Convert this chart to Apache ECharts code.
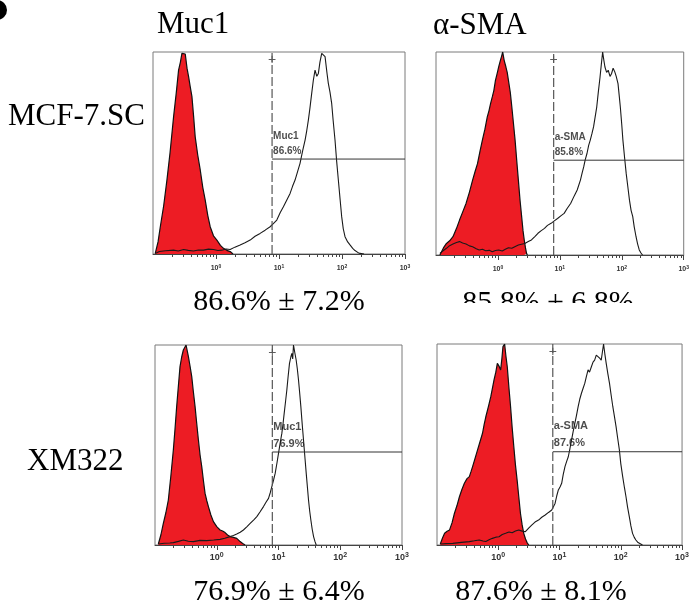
<!DOCTYPE html>
<html>
<head>
<meta charset="utf-8">
<script src="https://cdn.jsdelivr.net/npm/echarts@6/dist/echarts.min.js"></script>
<style>
html,body{margin:0;padding:0;background:#fff;}
#main{width:692px;height:614px;}
</style>
</head>
<body>
<div id="main"></div>
<script>
// histograms: [log10 intensity, % of max count]
var mcfMucIso = [[-0.964,0.3],[-0.92,6],[-0.884,13.5],[-0.83,24],[-0.779,36.6],[-0.73,50],[-0.673,68],[-0.63,80],[-0.594,91],[-0.565,95],[-0.541,99.3],[-0.52,100],[-0.488,99],[-0.46,92],[-0.435,87.8],[-0.41,83],[-0.382,77.9],[-0.355,68],[-0.33,58],[-0.29,49],[-0.25,41.6],[-0.21,33],[-0.171,26.7],[-0.13,19],[-0.092,13.5],[-0.04,9],[0.014,6.9],[0.07,4.3],[0.119,2.8],[0.17,1.8],[0.225,1.2],[0.27,0]];
var mcfMucPos = [[-0.964,0.3],[-0.9,1.2],[-0.8,1.6],[-0.673,1.9],[-0.6,1.5],[-0.514,2.2],[-0.44,1.8],[-0.356,1.5],[-0.28,2.0],[-0.197,1.9],[-0.12,2.4],[-0.039,2.2],[0.03,1.7],[0.093,1.9],[0.16,2.5],[0.225,2.2],[0.30,3.4],[0.383,4.5],[0.46,5.6],[0.542,6.9],[0.62,8.8],[0.70,10.2],[0.78,11.8],[0.859,13.5],[0.91,15.0],[0.965,16.8],[1.02,20.5],[1.07,23.4],[1.12,26.5],[1.176,30],[1.215,33.5],[1.255,36.6],[1.295,40.8],[1.334,44.9],[1.375,51],[1.414,56.4],[1.44,61],[1.466,66.3],[1.49,72],[1.519,79.5],[1.545,86],[1.572,91],[1.6,88],[1.625,89.4],[1.65,95],[1.678,99.3],[1.70,100],[1.731,97.7],[1.76,90],[1.783,84.5],[1.81,80],[1.836,74.6],[1.86,66],[1.889,56.4],[1.915,46],[1.942,36.6],[1.97,27],[1.995,18.5],[2.02,12.5],[2.048,8.6],[2.09,6.0],[2.127,4.5],[2.17,2.8],[2.206,1.7],[2.25,0.8],[2.286,0.3],[2.35,0]];
var mcfSmaIso = [[-0.937,0],[-0.88,3.5],[-0.831,5.7],[-0.78,7.0],[-0.726,9],[-0.67,13],[-0.62,17.2],[-0.565,21.5],[-0.515,25.4],[-0.46,31],[-0.409,36.9],[-0.37,41],[-0.33,45],[-0.29,51],[-0.251,56.6],[-0.21,62],[-0.172,68],[-0.145,71],[-0.119,74.6],[-0.09,78],[-0.066,81],[-0.04,86],[-0.013,89.3],[0.015,93],[0.04,95.9],[0.06,98],[0.077,100],[0.10,96],[0.129,92.6],[0.15,90],[0.172,89.3],[0.2,80],[0.224,73],[0.25,65],[0.277,56.6],[0.305,46],[0.33,36.9],[0.357,27],[0.383,18.9],[0.405,12],[0.425,7.4],[0.445,3.5],[0.462,0.8],[0.475,0]];
var mcfSmaPos = [[-0.937,0.8],[-0.88,2.2],[-0.831,3.3],[-0.78,4.6],[-0.726,5.4],[-0.67,6.2],[-0.62,6.6],[-0.57,5.9],[-0.515,5.4],[-0.46,4.5],[-0.409,4.1],[-0.35,3.1],[-0.303,2.5],[-0.25,2.8],[-0.198,2.1],[-0.14,2.3],[-0.092,1.6],[-0.04,2.2],[0.013,2.5],[0.07,2.0],[0.119,2.8],[0.17,3.6],[0.224,3.3],[0.28,4.2],[0.33,4.9],[0.38,5.3],[0.435,5.7],[0.49,6.6],[0.541,7.4],[0.6,9.2],[0.646,10.7],[0.70,12.0],[0.752,13.1],[0.80,14.6],[0.858,15.6],[0.91,16.8],[0.963,18],[1.02,19.4],[1.069,20.5],[1.12,23],[1.174,25.4],[1.23,29],[1.28,32],[1.332,36.9],[1.36,40.5],[1.385,43.4],[1.41,47],[1.438,50],[1.465,54],[1.491,56.6],[1.52,60],[1.544,63.1],[1.57,68],[1.596,73],[1.62,80],[1.649,87.7],[1.67,94],[1.691,100],[1.71,96],[1.728,92.6],[1.755,90],[1.781,91],[1.81,88],[1.834,89.3],[1.86,92],[1.887,90.2],[1.91,88],[1.939,84.4],[1.96,78],[1.976,73],[2.0,64],[2.018,56.6],[2.045,48],[2.071,40.2],[2.1,33],[2.124,27],[2.15,22],[2.177,18.9],[2.2,14],[2.23,9],[2.255,5.5],[2.282,2.5],[2.31,1.0],[2.335,0]];
var xmMucIso = [[-0.946,0.5],[-0.905,5],[-0.865,10.8],[-0.825,16],[-0.784,22.5],[-0.745,34],[-0.703,47.5],[-0.676,58],[-0.649,69.2],[-0.62,80],[-0.595,89.2],[-0.568,94],[-0.541,97.5],[-0.497,100],[-0.459,94.2],[-0.43,89],[-0.405,84.2],[-0.38,77],[-0.351,69.2],[-0.325,61],[-0.297,52.5],[-0.27,45],[-0.243,39.2],[-0.215,32],[-0.189,25.8],[-0.16,22],[-0.135,19.2],[-0.095,15],[-0.054,11.7],[0.0,9.2],[0.054,7.5],[0.095,7.0],[0.135,6.2],[0.175,5.0],[0.216,4.2],[0.27,3.8],[0.324,3.3],[0.35,2.4],[0.378,1.7],[0.42,0.8],[0.459,0]];
var xmMucPos = [[-0.946,0.5],[-0.85,0.9],[-0.76,1.0],[-0.703,1.2],[-0.62,1.8],[-0.541,2.5],[-0.46,1.9],[-0.378,1.7],[-0.27,2.3],[-0.162,2.2],[-0.05,2.5],[0.054,2.8],[0.13,3.4],[0.216,4.2],[0.27,4.8],[0.324,5.5],[0.38,6.4],[0.432,7.5],[0.49,9.2],[0.541,10.8],[0.6,12.6],[0.649,14.2],[0.70,16.5],[0.757,19.2],[0.80,21.5],[0.838,23.3],[0.865,26],[0.892,29.2],[0.92,32.5],[0.946,35.8],[0.975,41],[1.0,45.8],[1.027,51],[1.054,55.8],[1.075,61],[1.092,65.8],[1.115,72],[1.135,77.5],[1.155,84],[1.178,90.8],[1.2,94],[1.216,95.8],[1.23,93],[1.243,100],[1.265,96],[1.286,92.5],[1.305,88],[1.324,82.5],[1.343,76],[1.362,69.2],[1.385,60],[1.405,52.5],[1.43,43],[1.449,35.8],[1.468,29],[1.486,22.5],[1.505,17],[1.524,12.5],[1.545,8],[1.568,4.2],[1.59,1.8],[1.611,0]];
var xmSmaIso = [[-0.946,0.5],[-0.91,3.5],[-0.876,5.8],[-0.835,6.8],[-0.795,7.5],[-0.755,11],[-0.715,15.8],[-0.675,19.5],[-0.634,24],[-0.595,27.5],[-0.553,30.7],[-0.51,33],[-0.472,34],[-0.445,36.5],[-0.419,39],[-0.38,43],[-0.338,47.3],[-0.297,51.5],[-0.257,55.6],[-0.23,60],[-0.203,63.8],[-0.16,69],[-0.122,73.8],[-0.095,78],[-0.069,82.1],[-0.04,86],[-0.015,90.4],[0.012,89],[0.039,87.1],[0.06,93],[0.077,98.7],[0.104,100],[0.125,94],[0.147,88.7],[0.175,78],[0.201,68.8],[0.228,58],[0.254,48.9],[0.28,40],[0.308,32.3],[0.335,24],[0.362,15.8],[0.39,10],[0.416,5.8],[0.445,3],[0.47,1.2],[0.497,0]];
var xmSmaPos = [[-0.946,0.5],[-0.85,0.7],[-0.742,0.8],[-0.6,1.3],[-0.472,1.7],[-0.39,2.1],[-0.311,2.5],[-0.25,2.0],[-0.203,1.7],[-0.15,2.6],[-0.096,3.3],[-0.04,3.9],[0.012,4.1],[0.065,5.2],[0.12,5.8],[0.175,6.5],[0.227,6.1],[0.28,7.0],[0.335,7.5],[0.39,6.9],[0.443,6.6],[0.5,8.5],[0.55,10],[0.6,11.4],[0.658,12.4],[0.71,13.8],[0.766,14.9],[0.82,16.2],[0.873,17.4],[0.927,20.7],[0.955,24.5],[0.981,27.4],[1.01,29],[1.035,30.7],[1.06,35],[1.089,39],[1.115,41.5],[1.143,43.9],[1.17,48],[1.196,52.2],[1.223,56.5],[1.25,60.5],[1.277,64.5],[1.304,68.8],[1.33,72.5],[1.358,75.5],[1.385,78],[1.412,80.4],[1.44,84],[1.466,87.1],[1.49,86],[1.52,88.7],[1.547,91],[1.573,92],[1.6,94.5],[1.627,95.4],[1.655,93],[1.681,92],[1.70,96],[1.719,100],[1.74,95],[1.762,90.4],[1.79,85],[1.816,80.4],[1.843,74.5],[1.87,68.8],[1.896,64],[1.923,58.9],[1.95,53],[1.977,47.3],[2.0,40.5],[2.031,34],[2.06,28.5],[2.085,24],[2.11,19],[2.139,14.1],[2.165,9.5],[2.192,5.8],[2.22,3.8],[2.246,2.5],[2.275,1.4],[2.3,0.5],[2.354,0]];

var isoSeries = [mcfMucIso, mcfSmaIso, xmMucIso, xmSmaIso];
var posSeries = [mcfMucPos, mcfSmaPos, xmMucPos, xmSmaPos];

// gate marker (log10 position of the cut, height of the bar in %)
var gateX = [0.89, 0.90, 0.90, 0.89];
var gateY = [47, 46.7, 46.5, 46.4];
var gateNames = ['Muc1', 'a-SMA', 'Muc1', 'a-SMA'];
var gatePct = ['86.6%', '85.8%', '76.9%', '87.6%'];
var meanSd = ['86.6% \u00b1 7.2%', '85.8% \u00b1 6.8%', '76.9% \u00b1 6.4%', '87.6% \u00b1 8.1%'];
var columnNames = ['Muc1', '\u03b1-SMA'];
var rowNames = ['MCF-7.SC', 'XM322'];
var decades = [0, 1, 2, 3];
var minorSteps = [2, 3, 4, 5, 6, 7, 8, 9];

var minorTicks = [];
[-1, 0, 1, 2].forEach(function (d) {
  minorSteps.forEach(function (k) { minorTicks.push(d + Math.log10(k)); });
});

var boxes = [
  { left: 153, top: 52, width: 252, height: 202, small: true },
  { left: 436, top: 52, width: 252, height: 203, small: true },
  { left: 155, top: 345, width: 247, height: 200, small: false },
  { left: 437, top: 344, width: 248, height: 201, small: false }
];

var grid = [], xAxis = [], yAxis = [], series = [];
var red = '#ed1c24';

boxes.forEach(function (b, i) {
  grid.push({ left: b.left, top: b.top, width: b.width, height: b.height,
    show: true, borderColor: '#7a7a7a', borderWidth: 1, backgroundColor: '#fff' });
  var fs = b.small ? 7 : 9;
  xAxis.push({ type: 'value', gridIndex: i, min: -1, max: 3, position: 'bottom',
    axisLine: { lineStyle: { color: '#444', width: 1 } },
    axisTick: { customValues: minorTicks, length: 3, lineStyle: { color: '#444' } },
    axisLabel: { show: false }, splitLine: { show: false } });
  xAxis.push({ type: 'value', gridIndex: i, min: -1, max: 3, position: 'bottom',
    axisLine: { show: false },
    axisTick: { customValues: decades, length: 5, lineStyle: { color: '#444' } },
    axisLabel: { customValues: decades, margin: b.small ? 10 : 7,
      showMinLabel: true, showMaxLabel: true,
      formatter: function (v) { return '{b|10}{s|' + v + '}'; },
      rich: {
        b: { fontSize: fs, fontWeight: 'bold', color: '#333', fontFamily: 'Liberation Sans' },
        s: { fontSize: fs - 2, fontWeight: 'bold', color: '#333', fontFamily: 'Liberation Sans', padding: [0, 0, b.small ? 4 : 5, 0] }
      } },
    splitLine: { show: false } });
  yAxis.push({ type: 'value', gridIndex: i, min: 0, max: 100, show: false });

  var xi = 2 * i;
  series.push({ type: 'line', xAxisIndex: xi, yAxisIndex: i, data: isoSeries[i],
    showSymbol: false, silent: true,
    lineStyle: { color: '#111', width: 1.2 }, areaStyle: { color: red, opacity: 1 } });
  series.push({ type: 'line', xAxisIndex: xi, yAxisIndex: i, data: posSeries[i],
    showSymbol: false, silent: true, lineStyle: { color: '#1a1a1a', width: 1.1 } });
  series.push({ type: 'line', xAxisIndex: xi, yAxisIndex: i,
    data: [[gateX[i], 0], [gateX[i], 100]], showSymbol: false, silent: true,
    lineStyle: { color: '#555', width: 1.2, type: [9, 3] } });
  series.push({ type: 'line', xAxisIndex: xi, yAxisIndex: i,
    data: [[gateX[i], gateY[i]], [3, gateY[i]]], showSymbol: false, silent: true,
    lineStyle: { color: '#333', width: 1 } });
  series.push({ type: 'scatter', xAxisIndex: xi, yAxisIndex: i, symbolSize: 0, silent: true,
    data: [[gateX[i], gateY[i]]],
    label: { show: true, position: [1, 0], align: 'left', verticalAlign: 'bottom',
      formatter: gateNames[i] + '\n' + gatePct[i], lineHeight: b.small ? 15 : 17,
      fontSize: b.small ? 10 : 11, fontWeight: 'bold', color: '#222', fontFamily: 'Liberation Sans' } });
  series.push({ type: 'scatter', xAxisIndex: xi, yAxisIndex: i, symbolSize: 0, silent: true,
    data: [[gateX[i], 96]],
    label: { show: true, position: 'inside', formatter: '+', fontSize: 14, color: '#333',
      fontFamily: 'Liberation Sans' } });
});

var serif = '31px "Liberation Serif"';
var pctFont = '30px "Liberation Serif"';
var graphic = [
  { type: 'circle', shape: { cx: -3, cy: 10, r: 10 }, style: { fill: '#000' } },
  { type: 'text', x: 157, y: 25, style: { text: columnNames[0], font: serif, fill: '#000', textVerticalAlign: 'middle' } },
  { type: 'text', x: 433, y: 26, style: { text: columnNames[1], font: serif, fill: '#000', textVerticalAlign: 'middle' } },
  { type: 'text', x: 8, y: 117, style: { text: rowNames[0], font: serif, fill: '#000', textVerticalAlign: 'middle' } },
  { type: 'text', x: 27, y: 462, style: { text: rowNames[1], font: serif, fill: '#000', textVerticalAlign: 'middle' } },
  { type: 'text', x: 279, y: 302, style: { text: meanSd[0], font: pctFont, fill: '#000', textAlign: 'center', textVerticalAlign: 'middle' } },
  { type: 'text', x: 548, y: 303, style: { text: meanSd[1], font: pctFont, fill: '#000', textAlign: 'center', textVerticalAlign: 'middle' } },
  { type: 'rect', shape: { x: 440, y: 303, width: 230, height: 20 }, style: { fill: '#fff' }, z: 100 },
  { type: 'text', x: 279, y: 592, style: { text: meanSd[2], font: pctFont, fill: '#000', textAlign: 'center', textVerticalAlign: 'middle' } },
  { type: 'text', x: 541, y: 592, style: { text: meanSd[3], font: pctFont, fill: '#000', textAlign: 'center', textVerticalAlign: 'middle' } }
];

var chart = echarts.init(document.getElementById('main'), null, { renderer: 'canvas' });
chart.setOption({
  animation: false,
  backgroundColor: '#fff',
  grid: grid, xAxis: xAxis, yAxis: yAxis, series: series, graphic: graphic
});
</script>
</body>
</html>
